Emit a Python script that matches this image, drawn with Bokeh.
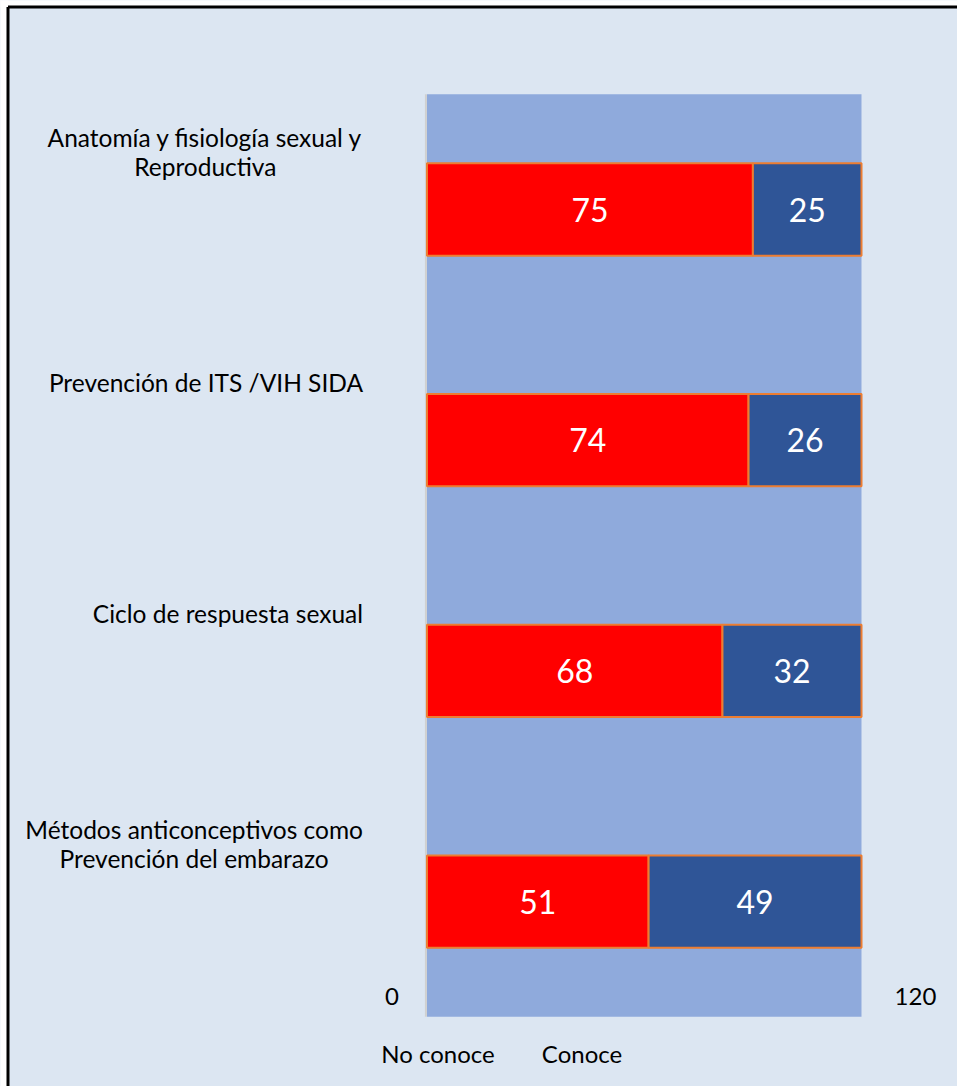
from bokeh.plotting import figure
from bokeh.models import Range1d, ColumnDataSource
from bokeh.core.properties import value
from bokeh.embed import file_html
from bokeh.resources import INLINE

# ---- data ----
categories = ["Anatomía y fisiología sexual y\nReproductiva",
              "Prevención de ITS /VIH SIDA",
              "Ciclo de respuesta sexual",
              "Métodos anticonceptivos como\nPrevención del embarazo"]
no_conoce = [75, 74, 68, 51]
conoce = [25, 26, 32, 49]
series_names = ["No conoce", "Conoce"]
axis_tick_labels = ["0", "120"]

# ---- style ----
FONT = "Lato"
BG = "#dce6f2"
PLOT_BG = "#8faadc"
RED = "#ff0000"
BLUE = "#2f5597"
EDGE = "#ed7d31"

W, H = 957, 1086
px_per_x = (861 - 426.5) / 100.0
x0_px = 426.5
px_per_y = 230.67
y0_px = 209.0

xmin, xmax = -x0_px / px_per_x, (W - x0_px) / px_per_x
ymin, ymax = (H - y0_px) / px_per_y, -y0_px / px_per_y

p = figure(width=W, height=H, output_backend="svg", toolbar_location=None,
           x_range=Range1d(xmin, xmax), y_range=Range1d(ymin, ymax),
           x_axis_location=None, y_axis_location=None,
           min_border=0, min_border_left=0, min_border_right=0,
           min_border_top=0, min_border_bottom=0)
p.xgrid.visible = False
p.ygrid.visible = False
p.outline_line_color = None
p.background_fill_color = BG
p.border_fill_color = BG

n = len(categories)
idx = list(range(n))

# white margin + black frame on left and top of the chart area
xl = (7.5 - x0_px) / px_per_x
yt = (6.5 - y0_px) / px_per_y
p.quad(left=[xmin - 5], right=[xl], top=[ymax - 1], bottom=[ymin + 1],
       fill_color="white", line_color=None)
p.quad(left=[xmin - 5], right=[xmax + 5], top=[ymax - 1], bottom=[yt],
       fill_color="white", line_color=None)
p.segment(x0=[xl, xl], x1=[xl, xmax + 5], y0=[yt, yt], y1=[ymin + 1, yt],
          line_color="black", line_width=3)

# plot area
p.quad(left=[0], right=[100], top=[-0.5], bottom=[n - 0.5], fill_color=PLOT_BG,
       line_color=None)
p.segment(x0=[-0.25], x1=[-0.25], y0=[-0.5], y1=[n - 0.5], line_color="#d0d0d0",
          line_width=2)

# stacked bars
right2 = [a + b for a, b in zip(no_conoce, conoce)]
src = ColumnDataSource(dict(y=idx, nc=no_conoce, c=conoce, r2=right2,
                            zero=[0] * n,
                            xc1=[v / 2 for v in no_conoce],
                            xc2=[a + b / 2 for a, b in zip(no_conoce, conoce)],
                            t1=[str(v) for v in no_conoce],
                            t2=[str(v) for v in conoce],
                            ylab=[i - 0.25 for i in idx],
                            cat=categories))
p.hbar(y="y", left="zero", right="nc", height=0.4, source=src,
       fill_color=RED, line_color=EDGE, line_width=2)
p.hbar(y="y", left="nc", right="r2", height=0.4, source=src,
       fill_color=BLUE, line_color=EDGE, line_width=2)

# value labels
p.text(x="xc1", y="y", text="t1", source=src, text_color="white",
       text_font=value(FONT), text_font_size="32px", text_align="center",
       text_baseline="middle")
p.text(x="xc2", y="y", text="t2", source=src, text_color="white",
       text_font=value(FONT), text_font_size="32px", text_align="center",
       text_baseline="middle")

# category labels
p.text(x="zero", y="ylab", text="cat", source=src, x_offset=-64,
       text_color="black", text_font=value(FONT), text_font_size="24.5px",
       text_align="center", text_baseline="middle", anchor="center_right",
       text_line_height=1.0)

# axis end labels
p.text(x=[0, 100], y=[n - 0.5, n - 0.5], text=axis_tick_labels,
       x_offset=[-35, 54], y_offset=[-20, -20],
       text_color="black", text_font=value(FONT), text_font_size="24px",
       text_align="center", text_baseline="middle")

# legend texts
p.text(x=[0, 0], y=[n - 0.5, n - 0.5], text=series_names,
       x_offset=[11, 155], y_offset=[37, 37],
       text_color="black", text_font=value(FONT), text_font_size="24px",
       text_align="center", text_baseline="middle")

open("out.html", "w").write(file_html(p, INLINE))
